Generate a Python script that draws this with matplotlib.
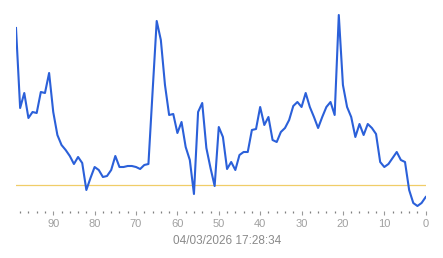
import matplotlib
matplotlib.use("Agg")
from matplotlib import pyplot as plt
from matplotlib.ticker import MultipleLocator

plt.rcParams['font.family'] = ['Liberation Sans', 'DejaVu Sans']

# seconds ago (x) and readings (y), newest sample at 0
ago = list(range(99, -1, -1))
values = [19.2, 11.2, 12.7, 10.2, 10.8, 10.7, 12.8, 12.7, 14.7, 10.8,
          8.5, 7.5, 7.0, 6.4, 5.6, 6.3, 5.7, 3.0, 4.2, 5.3,
          5.0, 4.3, 4.4, 5.0, 6.4, 5.3, 5.3, 5.4, 5.4, 5.3,
          5.1, 5.5, 5.6, 12.8, 19.9, 18.0, 13.5, 10.5, 10.6, 8.7,
          9.8, 7.3, 6.0, 2.6, 10.8, 11.7, 7.2, 5.2, 3.4, 9.3,
          8.3, 5.1, 5.8, 5.0, 6.5, 6.8, 6.8, 9.0, 9.1, 11.3,
          9.5, 10.3, 8.0, 7.8, 8.8, 9.2, 10.0, 11.4, 11.8, 11.3,
          12.7, 11.3, 10.3, 9.2, 10.3, 11.3, 11.8, 10.5, 20.5, 13.5,
          11.3, 10.3, 8.3, 9.6, 8.5, 9.6, 9.2, 8.6, 5.8, 5.3,
          5.6, 6.2, 6.8, 6.0, 5.8, 3.0, 1.7, 1.4, 1.7, 2.3]
threshold = 3.5
stamp = "04/03/2026 17:28:34"

fig = plt.figure(figsize=(4.43, 2.58), dpi=100)
ax = fig.add_axes([16 / 443, 1 - 211 / 258, (425.7 - 16) / 443, 201 / 258])

ax.axhline(threshold, color="#f0cd68", linewidth=0.9, zorder=1)
ax.plot(ago, values, color="#2b60d9", linewidth=1.5, zorder=2)

ax.set_xlim(99, 0)
ax.set_ylim(0.9, 21.0)

for s in ax.spines.values():
    s.set_visible(False)
ax.set_yticks([])
ax.xaxis.set_major_locator(MultipleLocator(10))
ax.xaxis.set_minor_locator(MultipleLocator(2))
ax.tick_params(axis="x", which="major", length=3, width=0.8, color="#999999",
               labelcolor="#a0a0a0", labelsize=8, pad=3)
ax.tick_params(axis="x", which="minor", length=1.1, width=0.9, color="#808080")

fig.text(227 / 443, 1 - 241 / 258, stamp, ha="center", va="center",
         color="#8a8a8a", fontsize=8.5)

fig.savefig("out.png", dpi=100)
